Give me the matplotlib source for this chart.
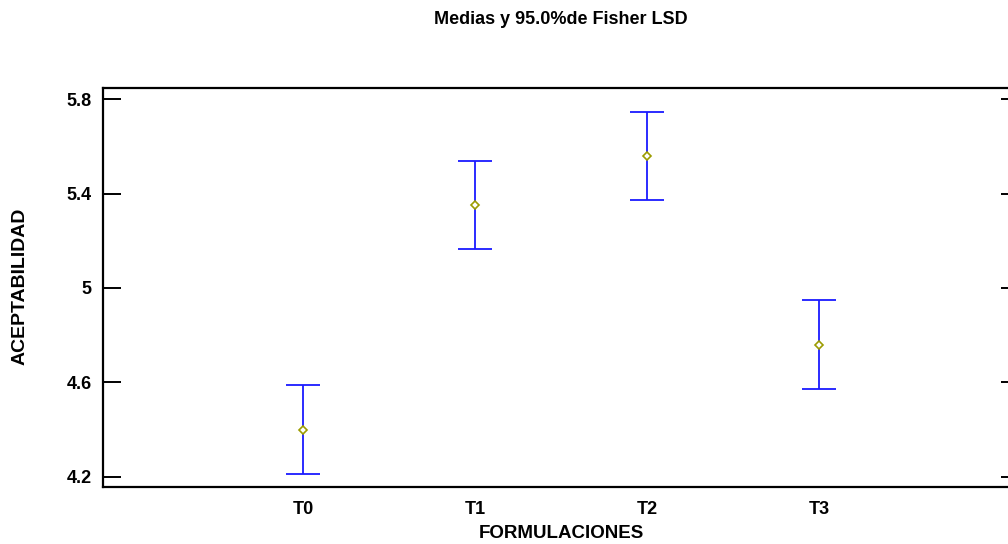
import numpy as np
import matplotlib
matplotlib.use('Agg')
import matplotlib.pyplot as plt

plt.rcParams['font.family'] = ['Liberation Sans', 'DejaVu Sans']
plt.rcParams['font.weight'] = 'bold'

# group means and LSD half-widths
formulaciones = ['T0', 'T1', 'T2', 'T3']
medias = [4.40, 5.35, 5.56, 4.76]
semi_lsd = [0.188, 0.187, 0.187, 0.188]
yticks = [4.2, 4.6, 5.0, 5.4, 5.8]
ytick_labels = ['4.2', '4.6', '5', '5.4', '5.8']

fig = plt.figure(figsize=(10.08, 5.44), dpi=100)
ax = fig.add_axes([0.1022, 0.1048, 0.9087, 0.7335])

x = np.arange(len(formulaciones))
ax.errorbar(x, medias, yerr=semi_lsd, fmt='none', ecolor='#1a1aff',
            elinewidth=1.3, capsize=12.2, capthick=1.3, zorder=2)
ax.plot(x, medias, linestyle='none', marker='D', markersize=4.5,
        markerfacecolor='white', markeredgecolor='#9c9c00',
        markeredgewidth=1.2, zorder=3)

ax.set_xlim(-1.163, 4.163)
ax.set_ylim(4.157, 5.847)
ax.set_xticks(x)
ax.set_xticklabels(formulaciones)
ax.set_yticks(yticks)
ax.set_yticklabels(ytick_labels)

ax.tick_params(axis='y', direction='in', length=13, width=1.4,
               right=True, labelsize=13, pad=8)
ax.tick_params(axis='x', length=0, labelsize=13, pad=10)
for s in ax.spines.values():
    s.set_linewidth(1.6)

fig.text(561/1008, 1 - 20/544, 'Medias y 95.0%de Fisher LSD',
         ha='center', va='center', fontsize=13, fontweight='bold')
fig.text(561/1008, 1 - 533/544, 'FORMULACIONES',
         ha='center', va='center', fontsize=13.5, fontweight='bold')
fig.text(20/1008, 1 - 286/544, 'ACEPTABILIDAD', rotation=90,
         ha='center', va='center', fontsize=14, fontweight='bold')

fig.savefig('out.png', dpi=100)
